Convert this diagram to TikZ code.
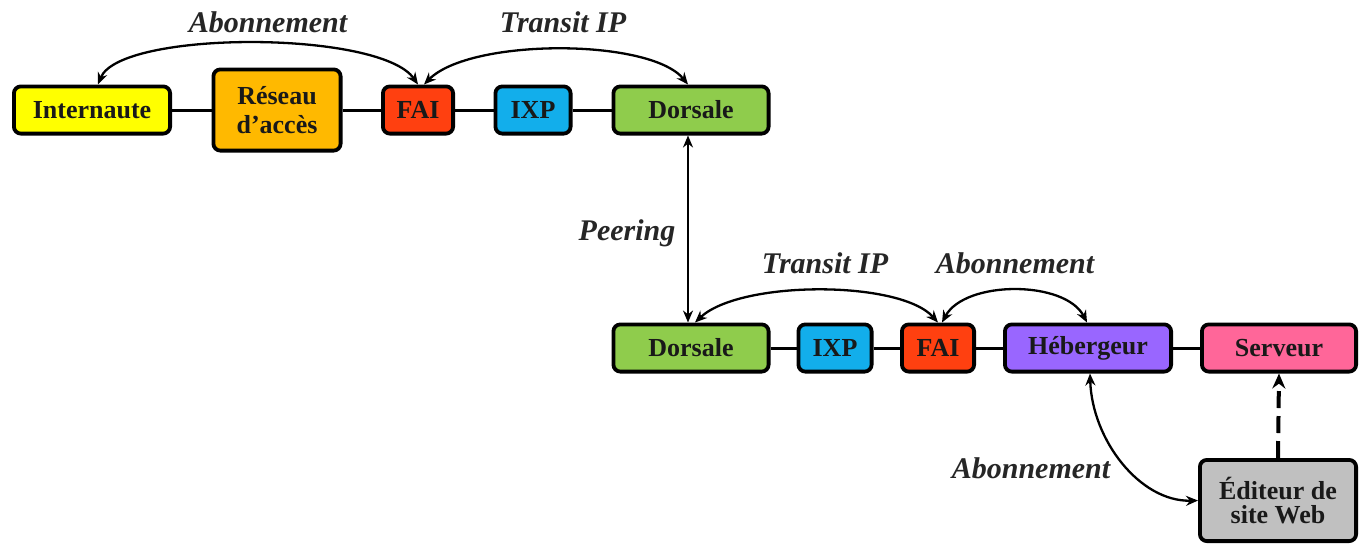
\documentclass[tikz,border=0pt]{standalone}
\usepackage{fontspec}
\setmainfont{Liberation Serif}
\usetikzlibrary{arrows.meta}
\definecolor{cyel}{HTML}{FFFF00}
\definecolor{corg}{HTML}{FFB900}
\definecolor{cfai}{HTML}{FF4010}
\definecolor{cixp}{HTML}{12AEEB}
\definecolor{cdor}{HTML}{8FCC4C}
\definecolor{cheb}{HTML}{9966FF}
\definecolor{cser}{HTML}{FF6699}
\definecolor{cedi}{HTML}{C0C0C0}
\begin{document}
\begin{tikzpicture}[x=1pt,y=-1pt,
 box/.style={draw=black, line width=3.8pt, rounded corners=7pt, inner sep=0pt, align=center,
   font=\bfseries\fontsize{26}{29}\selectfont, text=black!90, minimum height=47.2pt},
 lbl/.style={font=\bfseries\itshape\fontsize{30}{32}\selectfont, anchor=base, text=black!85},
 link/.style={line width=3pt},
 arr/.style={line width=2.3pt, {Stealth[length=12pt,width=10pt]}-{Stealth[length=12pt,width=10pt]}},
 darr/.style={line width=4pt, dash pattern=on 17pt off 8pt, -{Stealth[length=15pt,width=13pt]}},
]
\useasboundingbox (0,0) rectangle (1364,547);
% top row
\node[box, fill=cyel, minimum width=156.2pt] (inet) at (92,110) {Internaute};
\node[box, fill=corg, minimum width=127.2pt, minimum height=81.2pt,
  font=\bfseries\fontsize{26}{29}\selectfont] (res) at (277,110) {Réseau\\d’accès};
\node[box, fill=cfai, minimum width=70.2pt] (fai1) at (418,110) {FAI};
\node[box, fill=cixp, minimum width=75.2pt] (ixp1) at (533,110) {IXP};
\node[box, fill=cdor, minimum width=155.2pt] (dor1) at (691,110) {Dorsale};
% bottom row
\node[box, fill=cdor, minimum width=155.2pt] (dor2) at (691,348) {Dorsale};
\node[box, fill=cixp, minimum width=73.2pt] (ixp2) at (835,348) {IXP};
\node[box, fill=cfai, minimum width=72.2pt] (fai2) at (938,348) {FAI};
\node[box, fill=cheb, minimum width=166.2pt] (heb) at (1088,348) {Hébergeur};
\node[box, fill=cser, minimum width=154.2pt] (serv) at (1279,348) {Serveur};
\node[box, fill=cedi, minimum width=156.2pt, minimum height=81.2pt,
  font=\bfseries\fontsize{26}{23.5}\selectfont] (edit) at (1278,500.5) {Éditeur de\\site Web};
% links
\draw[link] (inet.east) -- (res.west);
\draw[link] (res.east) -- (fai1.west);
\draw[link] (fai1.east) -- (ixp1.west);
\draw[link] (ixp1.east) -- (dor1.west);
\draw[link] (dor2.east) -- (ixp2.west);
\draw[link] (ixp2.east) -- (fai2.west);
\draw[link] (fai2.east) -- (heb.west);
\draw[link] (heb.east) -- (serv.west);
% arrows
\draw[arr] ([xshift=6pt]inet.north) .. controls (120,30) and (380,30) .. (fai1.north);
\draw[arr] ([xshift=6pt]fai1.north) .. controls (470,38) and (650,38) .. ([xshift=-3pt]dor1.north);
\draw[arr] ([xshift=-3pt]dor1.south) -- ([xshift=-3pt]dor2.north);
\draw[arr] ([xshift=4pt]dor2.north) .. controls (740,280) and (900,280) .. (fai2.north);
\draw[arr] ([xshift=4pt]fai2.north) .. controls (965,280) and (1065,280) .. ([xshift=-1pt]heb.north);
\draw[arr] ([xshift=2pt]heb.south) .. controls (1092,440) and (1140,502) .. (edit.west);
\draw[darr] (edit.north) -- (serv.south);
% labels
\node[lbl] (l1) at (268,32) {Abonnement};
\node[lbl] (l2) at (563,32) {Transit IP};
\node[lbl] (l3) at (627,240) {Peering};
\node[lbl] (l4) at (825,273) {Transit IP};
\node[lbl] (l5) at (1015,273) {Abonnement};
\node[lbl] (l6) at (1031,478) {Abonnement};
\end{tikzpicture}
\end{document}
